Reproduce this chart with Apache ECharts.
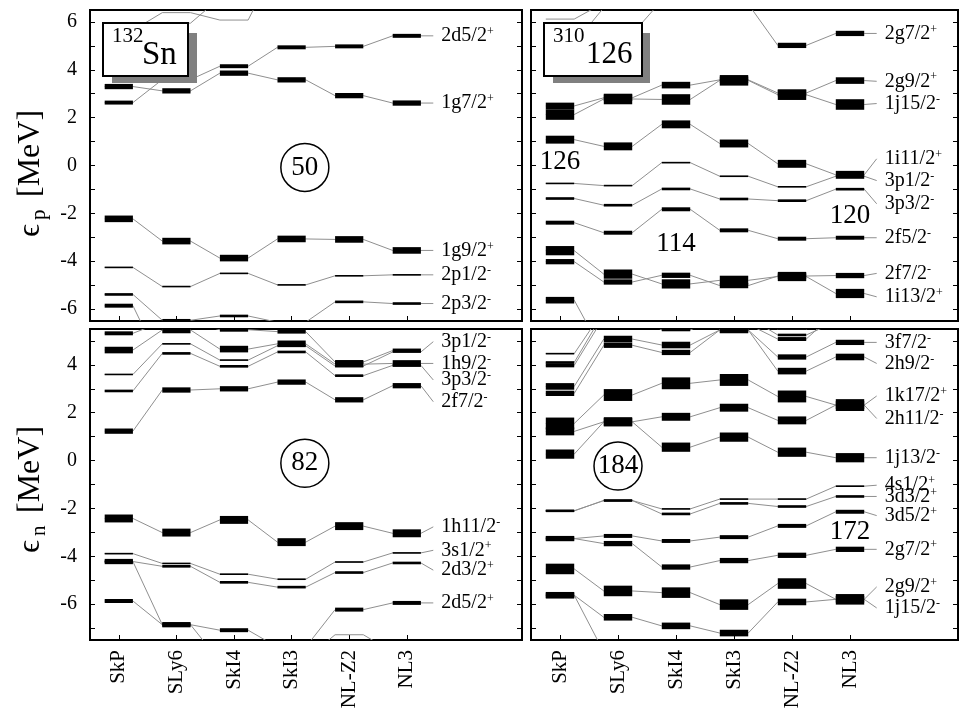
<!DOCTYPE html>
<html><head><meta charset="utf-8">
<script src="https://cdn.jsdelivr.net/npm/echarts@6/dist/echarts.min.js"></script>
<style>html,body{margin:0;padding:0;background:#fff}#c{width:960px;height:716px}</style>
</head><body><div id="c"></div><script>
// ---------------- DATA ----------------
const models = ['SkP', 'SLy6', 'SkI4', 'SkI3', 'NL-Z2', 'NL3'];
const modelPos = [1, 2, 3, 4, 5, 6];

// Panel 1: 132Sn protons
const snP_names = ['2d5/2+', '1g7/2+', '1g9/2+', '2p1/2-', '2p3/2-', '', '', ''];
const snP_deg = [6, 8, 10, 2, 4, 6, 0, 0];
const snP_vals = [
  [2.63, 3.59, 4.15, 4.94, 4.98, 5.42],
  [3.30, 3.12, 3.86, 3.58, 2.92, 2.61],
  [-2.23, -3.16, -3.87, -3.07, -3.09, -3.55],
  [-4.26, -5.06, -4.51, -4.99, -4.61, -4.57],
  [-5.39, -6.47, -6.29, -6.55, -5.70, -5.77],
  [-5.86, -8.4, -8.5, -8.5, -8.0, -8.0],
  [5.65, 6.39, 6.08, 8.5, null, null],
  [null, 5.95, 7.0, null, null, null]
];
const snP_labelY = [5.42, 2.61, -3.55, -4.57, -5.77, null, null, null];

// Panel 2: 310-126 protons
const shP_names = ['2g7/2+', '2g9/2+', '1j15/2-', '1i11/2+', '3p1/2-', '3p3/2-', '2f5/2-', '2f7/2-', '1i13/2+', '', '', '', ''];
const shP_deg = [8, 10, 16, 12, 2, 4, 6, 8, 14, 10, 0, 0, 0];
const shP_vals = [
  [null, null, null, 6.75, 5.02, 5.52],
  [2.49, 2.83, 3.36, 3.58, 3.03, 3.55],
  [2.13, 2.78, 2.76, 3.56, 2.96, 2.55],
  [1.08, 0.80, 1.72, 0.92, 0.07, -0.39],
  [-0.75, -0.84, 0.12, -0.45, -0.89, -0.45],
  [-1.38, -1.66, -0.98, -1.40, -1.47, -0.99],
  [-2.39, -2.81, -1.83, -2.71, -3.06, -3.02],
  [-4.02, -4.87, -4.59, -5.02, -4.62, -4.60],
  [-3.56, -4.54, -4.95, -4.80, -4.64, -5.35],
  [-5.63, -7.9, -8.0, -8.0, -8.0, -8.0],
  [6.12, 6.8, null, null, null, null],
  [5.1, 6.6, null, null, null, null],
  [null, 5.5, 6.9, null, null, null]
];
const shP_labelY = [5.52, 3.52, 2.59, 0.28, -0.63, -1.6, -3.02, -4.51, -5.49, null, null, null, null];

// Panel 3: 132Sn neutrons
const snN_names = ['3p1/2-', '1h9/2-', '3p3/2-', '2f7/2-', '', '1h11/2-', '3s1/2+', '2d3/2+', '2d5/2+', '', ''];
const snN_deg = [2, 10, 4, 8, 6, 12, 2, 4, 6, 8, 0];
const snN_vals = [
  [3.60, 4.88, 4.20, 4.80, 3.95, 4.54],
  [4.62, 5.46, 4.66, 4.88, 4.03, 4.06],
  [2.91, 4.48, 3.94, 4.54, 3.55, 3.98],
  [1.23, 2.95, 3.00, 3.28, 2.54, 3.13],
  [5.32, 5.8, 5.47, 5.39, 4.12, 4.6],
  [-2.42, -3.01, -2.48, -3.41, -2.74, -3.04],
  [-3.89, -4.30, -4.75, -4.96, -4.24, -3.86],
  [-4.22, -4.42, -5.09, -5.29, -4.68, -4.28],
  [-5.87, -6.86, -7.09, -7.8, -6.23, -5.95],
  [-4.22, -6.86, -8.4, -8.5, null, null],
  [null, null, null, -8.3, -7.28, -8.0]
];
const snN_labelY = [4.97, 4.06, 3.37, 2.46, null, -2.77, -3.75, -4.58, -5.95, null, null];

// Panel 4: 310-126 neutrons
const shN_names = ['3f7/2-', '2h9/2-', '1k17/2+', '2h11/2-', '1j13/2-', '4s1/2+', '3d3/2+', '3d5/2+', '2g7/2+', '2g9/2+', '1j15/2-', '', '', '', ''];
const shN_deg = [8, 10, 18, 12, 14, 2, 4, 6, 8, 16, 10, 8, 2, 4, 6];
const shN_vals = [
  [2.81, 4.82, 4.52, 5.46, 4.33, 4.94],
  [3.10, 5.08, 4.83, 5.46, 3.74, 4.33],
  [1.55, 2.74, 3.23, 3.37, 2.68, 2.32],
  [1.22, 1.62, 1.83, 2.21, 1.68, 2.32],
  [0.27, 1.62, 0.56, 0.98, 0.35, 0.12],
  [-2.10, -1.67, -2.02, -1.61, -1.61, -1.07],
  [-2.10, -1.67, -2.23, -1.79, -1.92, -1.50],
  [-3.26, -3.15, -3.36, -3.20, -2.73, -2.14],
  [-3.26, -3.47, -4.45, -4.18, -3.96, -3.71],
  [-4.53, -5.45, -5.52, -6.02, -5.14, -5.80],
  [-5.63, -6.55, -6.91, -7.21, -5.91, -5.80],
  [-5.63, -8.0, null, null, null, null],
  [4.47, 6.3, 5.9, 6.5, 5.5, 6.0],
  [4.10, 6.2, 5.46, 6.0, 5.25, 5.8],
  [3.98, 6.0, 6.2, 5.7, 5.08, 6.2]
];
const shN_labelY = [4.94, 4.06, 2.70, 1.76, 0.12, -1.03, -1.50, -2.3, -3.71, -5.28, -6.16, null, null, null, null];

// annotations: [x, y, text]
const circ_snP = [[4.23, -0.08, '50']];
const circ_snN = [[4.23, -0.11, '82']];
const circ_shN = [[2.0, -0.23, '184']];
const text_shP = [[1.0, 0.14, '126'], [3.0, -3.28, '114'], [6.0, -2.10, '120']];
const text_shN = [[6.0, -2.98, '172']];

const topTicks = [-6, -5, -4, -3, -2, -1, 0, 1, 2, 3, 4, 5, 6];
const topLabels = [-6, -4, -2, 0, 2, 4, 6];
const botTicks = [-7, -6, -5, -4, -3, -2, -1, 0, 1, 2, 3, 4, 5];
const botLabels = [-6, -4, -2, 0, 2, 4];

// ---------------- RENDER ----------------
const FONT = "'Liberation Serif', 'DejaVu Serif', serif";
const HW = 0.245, LX = 6.46, TX = 6.6;
const GRAY = '#8f8f8f';

const panels = [
  {g: 0, names: snP_names, deg: snP_deg, vals: snP_vals, labelY: snP_labelY},
  {g: 1, names: shP_names, deg: shP_deg, vals: shP_vals, labelY: shP_labelY},
  {g: 2, names: snN_names, deg: snN_deg, vals: snN_vals, labelY: snN_labelY},
  {g: 3, names: shN_names, deg: shN_deg, vals: shN_vals, labelY: shN_labelY}
];

function lineRender(p) {
  return function (params, api) {
    const k = api.value(0);
    const v = p.vals[k];
    const children = [];
    let run = [];
    const flush = () => {
      if (run.length > 1) children.push({type: 'polyline', shape: {points: run}, style: {stroke: GRAY, lineWidth: 1, fill: null}});
      run = [];
    };
    for (let i = 0; i < v.length; i++) {
      if (v[i] == null) { flush(); continue; }
      run.push(api.coord([modelPos[i] - HW, v[i]]));
      run.push(api.coord([modelPos[i] + HW, v[i]]));
    }
    if (p.labelY[k] != null && v[5] != null) run.push(api.coord([LX, p.labelY[k]]));
    flush();
    return {type: 'group', children};
  };
}

function barRender(p) {
  return function (params, api) {
    const k = api.value(0);
    const v = p.vals[k];
    const d = p.deg[k];
    const children = [];
    if (d > 0) {
      const t = Math.max(1.6, 0.66 * d);
      for (let i = 0; i < v.length; i++) {
        if (v[i] == null) continue;
        const a = api.coord([modelPos[i] - HW, v[i]]);
        const b = api.coord([modelPos[i] + HW, v[i]]);
        children.push({type: 'rect', shape: {x: a[0], y: a[1] - t / 2, width: b[0] - a[0], height: t}, style: {fill: '#000'}});
      }
    }
    if (p.labelY[k] != null && p.names[k]) {
      const nm = p.names[k];
      const main = nm.slice(0, -1), sup = nm.slice(-1);
      const c = api.coord([TX, p.labelY[k]]);
      children.push({
        type: 'text', x: c[0], y: c[1],
        style: {
          text: '{m|' + main + '}{s|' + sup + '}',
          align: 'left', verticalAlign: 'middle', fill: '#000',
          rich: {
            m: {fontSize: 20, fontFamily: FONT, fill: '#000'},
            s: {fontSize: 12, fontFamily: FONT, fill: '#000', verticalAlign: 'top'}
          }
        }
      });
    }
    return {type: 'group', children};
  };
}

const grids = [
  {left: 90, top: 10, width: 432, height: 311},
  {left: 531, top: 10, width: 427, height: 311},
  {left: 90, top: 329, width: 432, height: 311},
  {left: 531, top: 329, width: 427, height: 311}
].map(g => Object.assign(g, {show: true, borderColor: '#000', borderWidth: 2, backgroundColor: 'transparent', containLabel: false}));

const xAxes = [0, 1, 2, 3].map(g => ({
  gridIndex: g, type: 'value', min: 0.5, max: (g % 2 === 0) ? 8 : 7.862, position: 'bottom',
  axisLine: {show: false, onZero: false}, splitLine: {show: false},
  axisTick: {show: true, inside: true, length: 5, customValues: modelPos, lineStyle: {color: '#000', width: 1}},
  axisLabel: {
    show: g >= 2, customValues: modelPos, rotate: 90, margin: 10,
    formatter: v => models[Math.round(v) - 1] || '',
    fontSize: 21, fontFamily: FONT, color: '#000'
  }
}));

const yAxes = [];
[0, 1, 2, 3].forEach(g => {
  const top = g < 2;
  const base = {
    gridIndex: g, type: 'value', min: top ? -6.5 : -7.5, max: top ? 6.5 : 5.5,
    axisLine: {show: false, onZero: false}, splitLine: {show: false},
    axisTick: {show: true, inside: true, length: 5, customValues: top ? topTicks : botTicks, lineStyle: {color: '#000', width: 1}}
  };
  yAxes.push(Object.assign({}, base, {
    position: 'left',
    axisLabel: {show: g % 2 === 0, customValues: top ? topLabels : botLabels, margin: 13, fontSize: 20, fontFamily: FONT, color: '#000'}
  }));
  yAxes.push(Object.assign({}, base, {position: 'right', axisLabel: {show: false}}));
});

const series = [];
panels.forEach(p => {
  const data = p.vals.map((_, k) => [k]);
  series.push({type: 'custom', xAxisIndex: p.g, yAxisIndex: p.g * 2, clip: true, z: 2, silent: true, renderItem: lineRender(p), data: data, encode: {x: -1, y: -1}});
  series.push({type: 'custom', xAxisIndex: p.g, yAxisIndex: p.g * 2, clip: true, z: 3, silent: true, renderItem: barRender(p), data: data, encode: {x: -1, y: -1}});
});

function circles(g, arr) {
  return {
    type: 'scatter', xAxisIndex: g, yAxisIndex: g * 2, z: 5, silent: true,
    data: arr.map(a => ({value: [a[0], a[1]], name: a[2]})),
    symbol: 'circle', symbolSize: 48,
    itemStyle: {color: 'rgba(255,255,255,0)', borderColor: '#000', borderWidth: 1.5, opacity: 1},
    label: {show: true, position: 'inside', formatter: q => q.name, fontSize: 27, fontFamily: FONT, color: '#000'}
  };
}
function texts(g, arr) {
  return {
    type: 'custom', xAxisIndex: g, yAxisIndex: g * 2, z: 5, silent: true,
    data: arr.map(a => [a[0], a[1]]),
    renderItem: function (params, api) {
      const c = api.coord([api.value(0), api.value(1)]);
      return {type: 'text', x: c[0], y: c[1], style: {text: arr[params.dataIndex][2], font: '27px ' + FONT, fill: '#000', align: 'center', verticalAlign: 'middle'}};
    }
  };
}
series.push(circles(0, circ_snP), circles(2, circ_snN), circles(3, circ_shN), texts(1, text_shP), texts(3, text_shN));

function yName(x, y, sub) {
  return {
    type: 'group', x: x, y: y, rotation: Math.PI / 2, z: 50,
    children: [
      {type: 'text', x: 0, y: 0, style: {text: 'ϵ', font: '32px ' + FONT, fill: '#000', align: 'left', verticalAlign: 'middle'}},
      {type: 'text', x: 17, y: 8, style: {text: sub, font: '21px ' + FONT, fill: '#000', align: 'left', verticalAlign: 'middle'}},
      {type: 'text', x: 40, y: 0, style: {text: '[MeV]', font: '32px ' + FONT, fill: '#000', align: 'left', verticalAlign: 'middle'}}
    ]
  };
}

const graphic = [
  yName(31, 237, 'p'),
  yName(31, 553, 'n'),
  {type: 'rect', z: 100, shape: {x: 112, y: 33, width: 85, height: 50}, style: {fill: '#808080'}},
  {type: 'rect', z: 101, shape: {x: 103, y: 23, width: 85, height: 53}, style: {fill: '#fff', stroke: '#000', lineWidth: 2}},
  {type: 'text', z: 102, x: 112, y: 26, style: {text: '132', font: '21px ' + FONT, fill: '#000', verticalAlign: 'top'}},
  {type: 'text', z: 102, x: 142, y: 39, style: {text: 'Sn', font: '33px ' + FONT, fill: '#000', verticalAlign: 'top'}},
  {type: 'rect', z: 100, shape: {x: 553, y: 33, width: 97, height: 50}, style: {fill: '#808080'}},
  {type: 'rect', z: 101, shape: {x: 544, y: 23, width: 98, height: 53}, style: {fill: '#fff', stroke: '#000', lineWidth: 2}},
  {type: 'text', z: 102, x: 553, y: 26, style: {text: '310', font: '21px ' + FONT, fill: '#000', verticalAlign: 'top'}},
  {type: 'text', z: 102, x: 586, y: 39, style: {text: '126', font: '31px ' + FONT, fill: '#000', verticalAlign: 'top'}}
];

const chart = echarts.init(document.getElementById('c'), null, {renderer: 'canvas'});
chart.setOption({
  animation: false,
  backgroundColor: '#fff',
  grid: grids, xAxis: xAxes, yAxis: yAxes, series: series, graphic: graphic
});
</script></body></html>
